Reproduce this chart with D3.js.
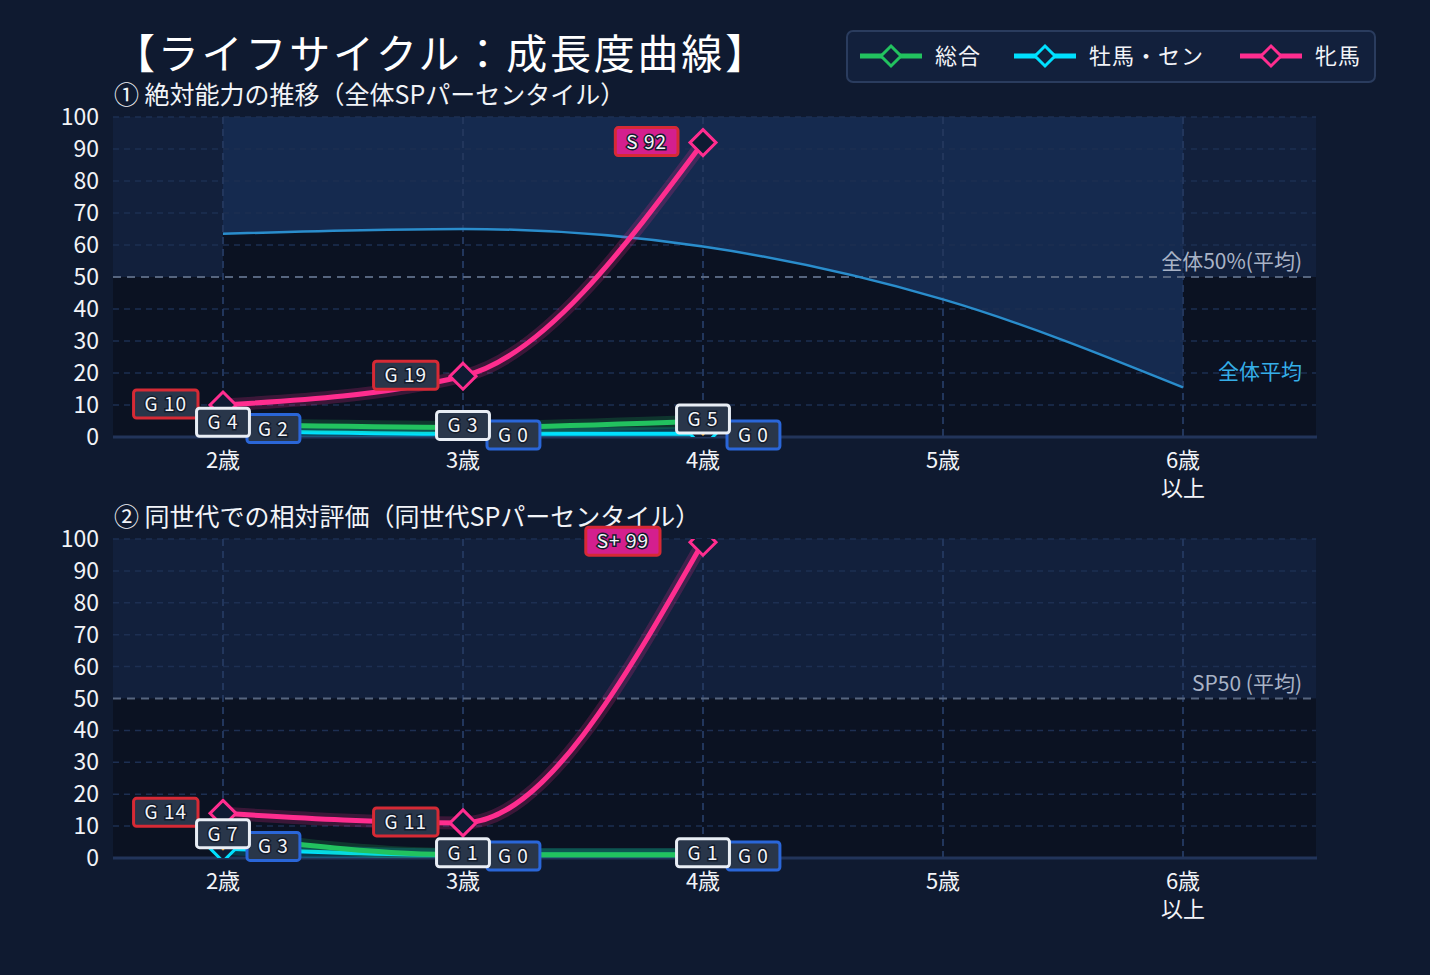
<!DOCTYPE html>
<html>
<head>
<meta charset="utf-8">
<script src="https://cdn.jsdelivr.net/npm/d3@7"></script>
<style>
  body { margin: 0; background: #0f1a30; }
  svg { display: block; }
</style>
</head>
<body>
<svg id="chart" width="1430" height="975"></svg>
<script>
// ---- data ----
const ageLabels = [['2歳'], ['3歳'], ['4歳'], ['5歳'], ['6歳', '以上']];
const yTicks = [0, 10, 20, 30, 40, 50, 60, 70, 80, 90, 100];

// ① 全体SPパーセンタイル
const absOverall = [4, 3, 5];
const absOverallGrade = ['G', 'G', 'G'];
const absColt = [2, 0, 0];
const absColtGrade = ['G', 'G', 'G'];
const absFilly = [10, 19, 92];
const absFillyGrade = ['G', 'G', 'S'];
const absAverage = [63.5, 65, 59.5, 43, 15.5];

// ② 同世代SPパーセンタイル
const relOverall = [7, 1, 1];
const relOverallGrade = ['G', 'G', 'G'];
const relColt = [3, 0, 0];
const relColtGrade = ['G', 'G', 'G'];
const relFilly = [14, 11, 99];
const relFillyGrade = ['G', 'G', 'S+'];

const seriesNames = ['総合', '牡馬・セン', '牝馬'];
const seriesColors = ['#22c25f', '#00e0ff', '#ff2d8f'];

const FONT = '"Noto Sans CJK JP", "Noto Sans", sans-serif';
const svg = d3.select('#chart');

const plotL = 113, plotR = 1316;
const x = d3.scaleLinear().domain([0, 4]).range([223, 1183]);

// title
svg.append('text')
  .attr('x', 114).attr('y', 69)
  .attr('font-family', FONT).attr('font-size', 41)
  .attr('letter-spacing', 2.8)
  .attr('fill', '#ffffff')
  .text('【ライフサイクル：成長度曲線】');

// legend
const legend = svg.append('g');
legend.append('rect')
  .attr('x', 847).attr('y', 31).attr('width', 528).attr('height', 51).attr('rx', 6)
  .attr('fill', '#12203c').attr('stroke', '#2a3c5e').attr('stroke-width', 2);
const legendX = [860, 1014, 1240];
seriesNames.forEach(function(name, i) {
  const lx = legendX[i];
  legend.append('line')
    .attr('x1', lx).attr('x2', lx + 62).attr('y1', 56).attr('y2', 56)
    .attr('stroke', seriesColors[i]).attr('stroke-width', 5);
  legend.append('path')
    .attr('d', diamond(10))
    .attr('transform', 'translate(' + (lx + 31) + ',56)')
    .attr('fill', '#12203c').attr('stroke', seriesColors[i]).attr('stroke-width', 3);
  legend.append('text')
    .attr('x', lx + 75).attr('y', 64)
    .attr('font-family', FONT).attr('font-size', 22).attr('letter-spacing', 1)
    .attr('fill', '#f2f4f8')
    .text(name);
});

function diamond(r) {
  return 'M0,' + (-r) + 'L' + r + ',0L0,' + r + 'L' + (-r) + ',0Z';
}

function drawPanel(cfg) {
  const y = d3.scaleLinear().domain([0, 100]).range([cfg.bottom, cfg.top]);
  const g = svg.append('g');

  g.append('text')
    .attr('x', 114).attr('y', cfg.top - 13)
    .attr('font-family', FONT).attr('font-size', 25).attr('fill', '#f2f4f8')
    .text(cfg.subtitle);

  // background bands
  g.append('rect')
    .attr('x', plotL).attr('y', y(100)).attr('width', plotR - plotL).attr('height', y(50) - y(100))
    .attr('fill', '#12203c');
  g.append('rect')
    .attr('x', plotL).attr('y', y(50)).attr('width', plotR - plotL).attr('height', y(0) - y(50))
    .attr('fill', '#0b1222');

  if (cfg.average) {
    g.append('rect')
      .attr('x', x(0)).attr('y', y(100)).attr('width', x(4) - x(0)).attr('height', y(0) - y(100))
      .attr('fill', '#152a4f');
    const area = d3.area()
      .x((d, i) => x(i)).y0(y(0)).y1(d => y(d))
      .curve(d3.curveMonotoneX);
    g.append('path').datum(cfg.average).attr('d', area).attr('fill', '#0b1222');
  }

  // grid
  yTicks.filter(t => t !== 0 && t !== 50).forEach(function(t) {
    g.append('line')
      .attr('x1', plotL).attr('x2', plotR).attr('y1', y(t)).attr('y2', y(t))
      .attr('stroke', '#1d2f52').attr('stroke-width', 1.5).attr('stroke-dasharray', '6,5');
  });
  ageLabels.forEach(function(a, i) {
    g.append('line')
      .attr('x1', x(i)).attr('x2', x(i)).attr('y1', y(100)).attr('y2', y(0))
      .attr('stroke', '#22365c').attr('stroke-width', 2).attr('stroke-dasharray', '7,5');
  });
  g.append('line')
    .attr('x1', plotL).attr('x2', plotR).attr('y1', y(50)).attr('y2', y(50))
    .attr('stroke', '#56657f').attr('stroke-width', 2).attr('stroke-dasharray', '8,6');
  g.append('line')
    .attr('x1', plotL).attr('x2', plotR + 1).attr('y1', y(0)).attr('y2', y(0))
    .attr('stroke', '#22345a').attr('stroke-width', 3);

  if (cfg.average) {
    const avgLine = d3.line().x((d, i) => x(i)).y(d => y(d)).curve(d3.curveMonotoneX);
    g.append('path').datum(cfg.average).attr('d', avgLine)
      .attr('fill', 'none').attr('stroke', '#2a8dcc').attr('stroke-width', 2.5);
    g.append('text')
      .attr('x', 1302).attr('y', y(20) + 6).attr('text-anchor', 'end')
      .attr('font-family', FONT).attr('font-size', 21).attr('fill', '#35aee8')
      .text('全体平均');
  }
  g.append('text')
    .attr('x', 1302).attr('y', y(50) - 8).attr('text-anchor', 'end')
    .attr('font-family', FONT).attr('font-size', 21).attr('fill', '#a9b3c6')
    .text(cfg.midLabel);

  // axes labels
  yTicks.forEach(function(t) {
    g.append('text')
      .attr('x', 99).attr('y', y(t) + 8).attr('text-anchor', 'end')
      .attr('font-family', FONT).attr('font-size', 23).attr('fill', '#f2f4f8')
      .text(t);
  });
  ageLabels.forEach(function(lines, i) {
    lines.forEach(function(s, j) {
      g.append('text')
        .attr('x', x(i)).attr('y', y(0) + 31 + j * 28).attr('text-anchor', 'middle')
        .attr('font-family', FONT).attr('font-size', 22).attr('fill', '#f2f4f8')
        .text(s);
    });
  });

  // series
  const clipId = 'clip' + cfg.id;
  svg.append('clipPath').attr('id', clipId).append('rect')
    .attr('x', plotL).attr('y', y(100)).attr('width', plotR - plotL).attr('height', y(0) - y(100));
  const sg = g.append('g').attr('clip-path', 'url(#' + clipId + ')');
  const line = d3.line().x((d, i) => x(i)).y(d => y(Math.max(d, 1))).curve(d3.curveMonotoneX);

  const order = [1, 0, 2];
  order.forEach(function(k) {
    const vals = cfg.series[k];
    sg.append('path').datum(vals).attr('d', line)
      .attr('fill', 'none').attr('stroke', seriesColors[k])
      .attr('stroke-width', 13).attr('stroke-opacity', 0.2);
    sg.append('path').datum(vals).attr('d', line)
      .attr('fill', 'none').attr('stroke', seriesColors[k])
      .attr('stroke-width', k === 1 ? 4 : 5);
  });
  order.forEach(function(k) {
    const vals = cfg.series[k];
    const peak = d3.maxIndex(vals);
    vals.forEach(function(v, i) {
      sg.append('path')
        .attr('d', diamond(13))
        .attr('transform', 'translate(' + x(i) + ',' + y(Math.max(v, 1)) + ')')
        .attr('fill', '#0f1b33')
        .attr('stroke', (k === 0 && i === peak) ? '#f5a623' : seriesColors[k])
        .attr('stroke-width', 3);
    });
  });

  // value labels: filly, colt, overall
  [2, 1, 0].forEach(function(k) {
    const vals = cfg.series[k];
    vals.forEach(function(v, i) {
      const grade = cfg.grades[k][i];
      const px = x(i), py = y(v);
      const lg = g.append('g');
      const txt = lg.append('text')
        .attr('text-anchor', 'middle').attr('y', 7)
        .attr('font-family', FONT).attr('font-size', 19)
        .attr('fill', '#f4f6fa').attr('stroke', '#141c2b').attr('stroke-width', 3)
        .attr('paint-order', 'stroke').attr('letter-spacing', 1)
        .text(grade + ' ' + v);
      const w = txt.node().getComputedTextLength() + 22;
      let border = seriesColors[k], fill = '#29364a';
      let cx = px, cy = py - 2;
      if (k === 2) {
        border = '#d62a35';
        if (grade !== 'G') fill = '#d41f8e';
        const gap = v >= 95 ? 43 : 25;
        cx = px - gap - w / 2;
        cy = py - 1;
      } else if (k === 1) {
        border = '#2a66d8';
        cx = px + 24 + w / 2;
      } else {
        border = '#e9eef5';
      }
      lg.insert('rect', 'text')
        .attr('x', -w / 2).attr('y', -14).attr('width', w).attr('height', 28).attr('rx', 3)
        .attr('fill', fill).attr('stroke', border).attr('stroke-width', 3);
      lg.attr('transform', 'translate(' + cx + ',' + cy + ')');
    });
  });
}

drawPanel({
  id: 1, top: 117, bottom: 437,
  subtitle: '① 絶対能力の推移（全体SPパーセンタイル）',
  midLabel: '全体50%(平均)',
  average: absAverage,
  series: [absOverall, absColt, absFilly],
  grades: [absOverallGrade, absColtGrade, absFillyGrade]
});
drawPanel({
  id: 2, top: 539, bottom: 858,
  subtitle: '② 同世代での相対評価（同世代SPパーセンタイル）',
  midLabel: 'SP50 (平均)',
  average: null,
  series: [relOverall, relColt, relFilly],
  grades: [relOverallGrade, relColtGrade, relFillyGrade]
});
</script>
</body>
</html>
